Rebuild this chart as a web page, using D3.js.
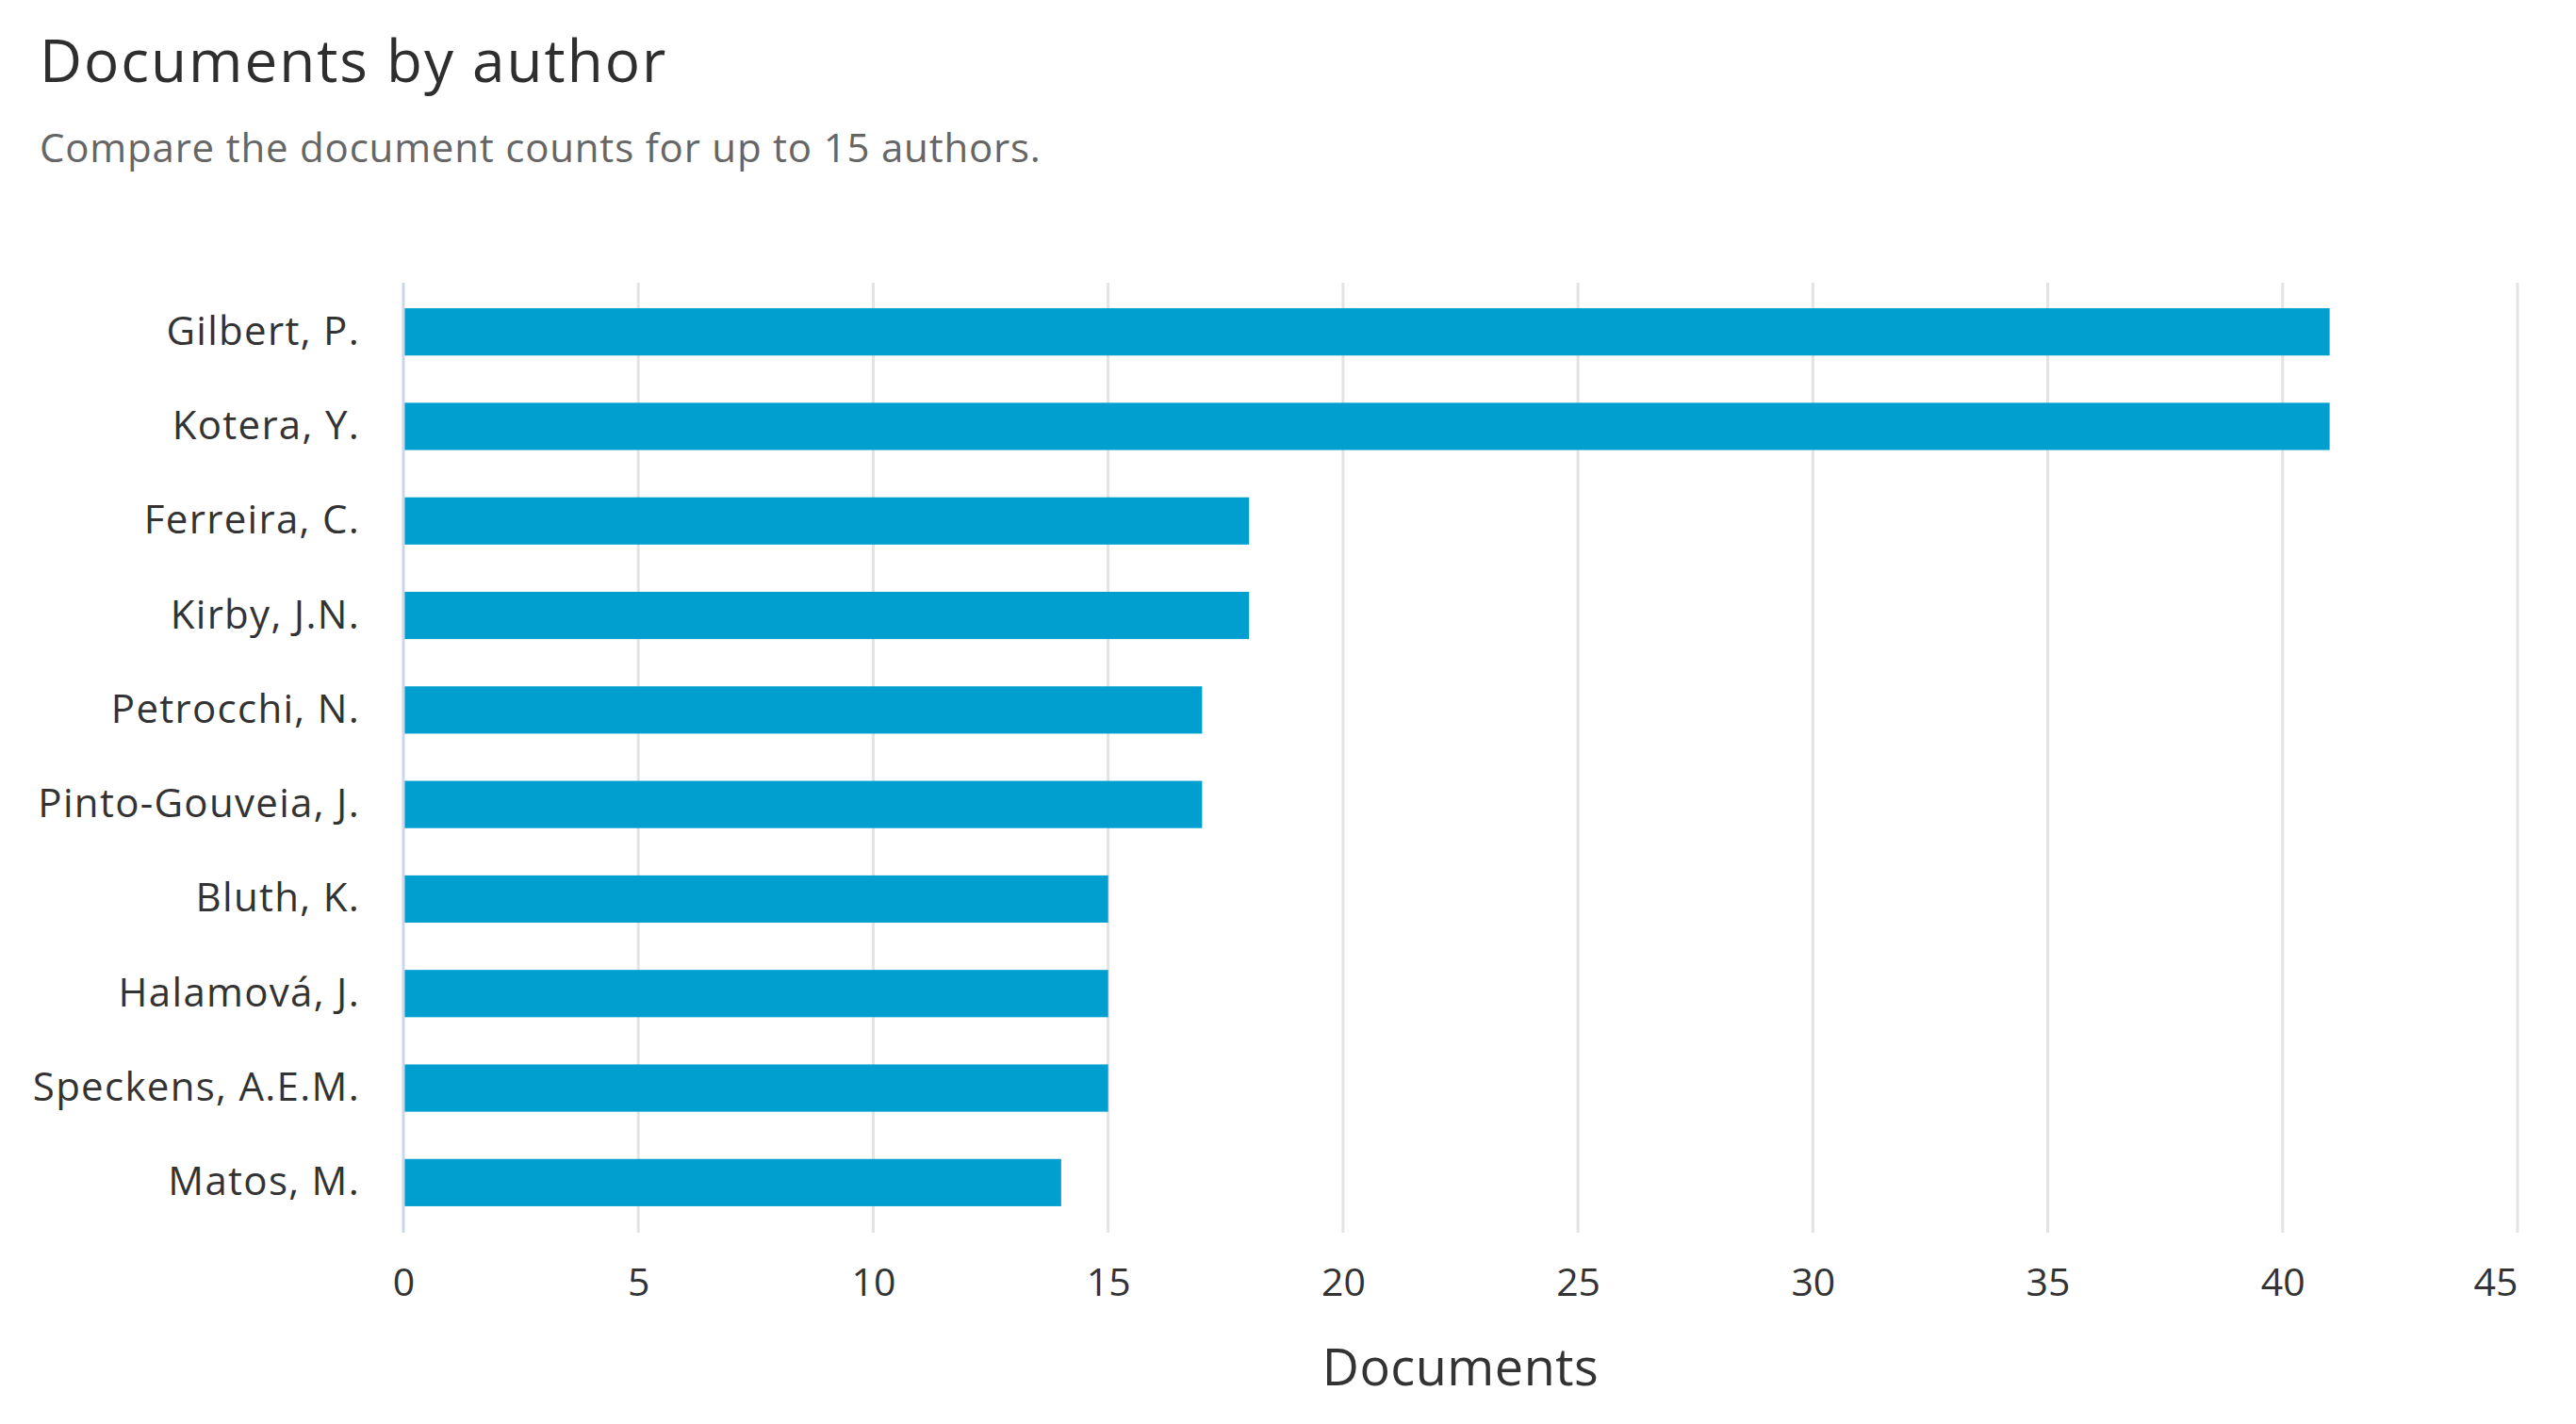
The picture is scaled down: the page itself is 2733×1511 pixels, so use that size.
<!DOCTYPE html>
<html>
<head>
<meta charset="utf-8">
<script src="https://cdn.jsdelivr.net/npm/d3@7"></script>
<style>
  html, body { margin: 0; padding: 0; background: #ffffff; }
  svg { display: block; font-family: "Open Sans", Lato, sans-serif; }
</style>
</head>
<body>
<svg id="chart" width="2733" height="1511"></svg>
<script>
const authors = ["Gilbert, P.", "Kotera, Y.", "Ferreira, C.", "Kirby, J.N.", "Petrocchi, N.",
  "Pinto-Gouveia, J.", "Bluth, K.", "Halamová, J.", "Speckens, A.E.M.", "Matos, M."];
const documents = [41, 41, 18, 18, 17, 17, 15, 15, 15, 14];
const xTicks = [0, 5, 10, 15, 20, 25, 30, 35, 40, 45];
const titleText = "Documents by author";
const subtitleText = "Compare the document counts for up to 15 authors.";
const xAxisTitle = "Documents";

const FONT = "'Open Sans', Lato, sans-serif";
const svg = d3.select("#chart");
const margin = { left: 428, right: 2733 - 2671, top: 302, bottom: 1511 - 1305 };
const W = 2733, H = 1511;

const x = d3.scaleLinear().domain([0, 45]).range([margin.left, W - margin.right]);
const y = d3.scaleBand().domain(authors).range([margin.top, H - margin.bottom]).paddingInner(0.5).paddingOuter(0.25);

// title
svg.append("text").attr("x", 42).attr("y", 87)
  .attr("font-size", 62).attr("letter-spacing", 2).attr("fill", "#2e2e2e").text(titleText);
svg.append("text").attr("x", 42).attr("y", 172)
  .attr("font-size", 42).attr("letter-spacing", 0.8).attr("fill", "#666666").text(subtitleText);

// gridlines
svg.append("g").selectAll("line").data(xTicks.slice(1)).join("line")
  .attr("x1", d => x(d)).attr("x2", d => x(d))
  .attr("y1", 300).attr("y2", 1308)
  .attr("stroke", "#e3e3e3").attr("stroke-width", 3);

// bars
svg.append("g").selectAll("rect").data(authors).join("rect")
  .attr("x", x(0))
  .attr("y", d => y(d))
  .attr("width", (d, i) => x(documents[i]) - x(0))
  .attr("height", y.bandwidth())
  .attr("fill", "#009fcf");

// y axis line
svg.append("line").attr("x1", x(0)).attr("x2", x(0)).attr("y1", 300).attr("y2", 1308)
  .attr("stroke", "#ccd6eb").attr("stroke-width", 3);

// y labels
const yAxis = d3.axisLeft(y).tickSize(0).tickPadding(0);
const gy = svg.append("g").attr("transform", `translate(382,0)`).call(yAxis);
gy.select(".domain").remove();
gy.selectAll("text").attr("font-size", 42).attr("letter-spacing", 1.3).attr("fill", "#333333")
  .attr("font-family", FONT);

// x axis labels
const xAxis = d3.axisBottom(x).tickValues(xTicks).tickSize(0).tickPadding(0);
const gx = svg.append("g").attr("transform", `translate(0,1346)`).call(xAxis);
gx.select(".domain").remove();
gx.selectAll("text").attr("font-size", 41).attr("fill", "#333333")
  .attr("font-family", FONT);
gx.selectAll(".tick").filter(d => d === xTicks[xTicks.length - 1])
  .select("text").attr("text-anchor", "end");

// x axis title
svg.append("text").attr("x", (x(0) + x(45)) / 2).attr("y", 1470)
  .attr("text-anchor", "middle").attr("font-size", 54).attr("letter-spacing", 0.5).attr("fill", "#333333")
  .text(xAxisTitle);
</script>
</body>
</html>
